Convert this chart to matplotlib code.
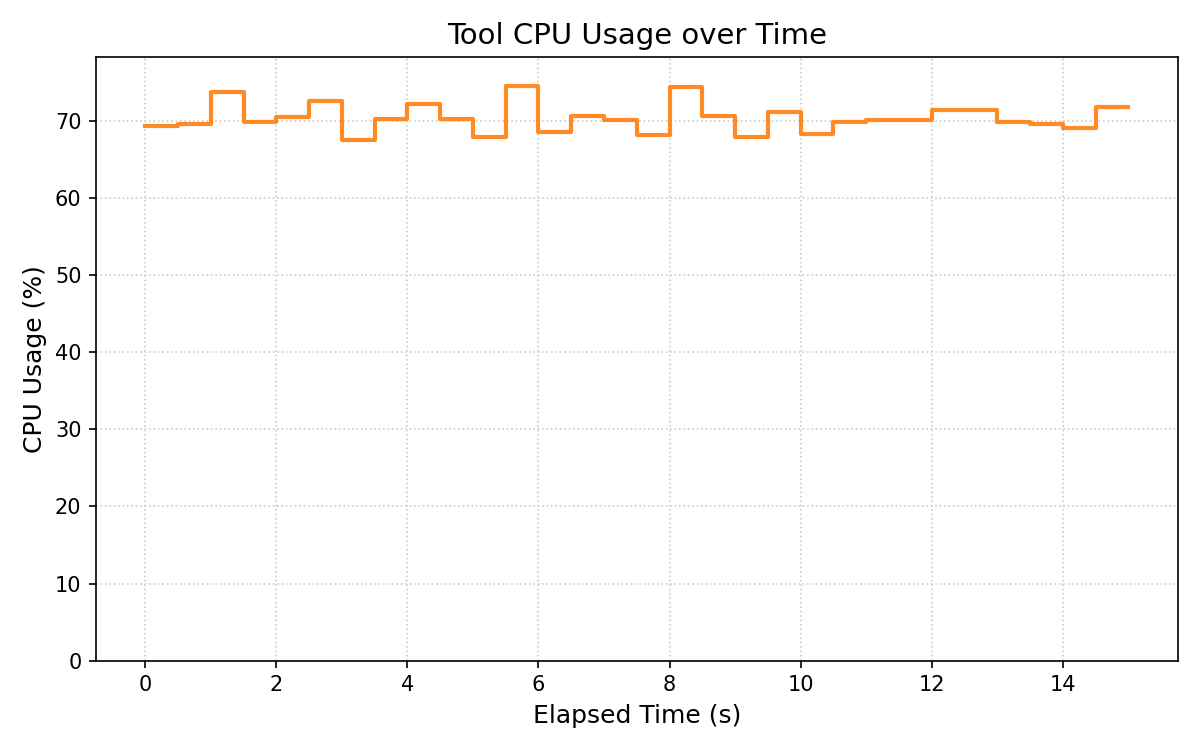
import matplotlib
matplotlib.use("Agg")
import matplotlib.pyplot as plt
import numpy as np

elapsed_time = [0.0, 0.5, 1.0, 1.5, 2.0, 2.5, 3.0, 3.5, 4.0, 4.5, 5.0, 5.5, 6.0, 6.5, 7.0, 7.5,
                8.0, 8.5, 9.0, 9.5, 10.0, 10.5, 11.0, 11.5, 12.0, 12.5, 13.0, 13.5, 14.0, 14.5, 15.0]
cpu_usage = [69.35, 69.65, 73.75, 69.9, 70.5, 72.6, 67.6, 70.25, 72.25, 70.25, 67.9, 74.6, 68.55, 70.65,
             70.15, 68.2, 74.5, 70.7, 67.9, 71.2, 68.3, 69.85, 70.1, 70.1, 71.45, 71.45, 69.85, 69.6,
             69.1, 71.85, 71.85]

fig, ax = plt.subplots(figsize=(8, 5), dpi=150)
ax.step(elapsed_time, cpu_usage, where='post', color='#ff7f0e', linewidth=2, alpha=0.9)
ax.set_ylim(0, max(cpu_usage) * 1.05)
ax.set_title("Tool CPU Usage over Time", fontsize=14)
ax.set_xlabel("Elapsed Time (s)", fontsize=12)
ax.set_ylabel("CPU Usage (%)", fontsize=12)
ax.grid(True, linestyle=':', color='#cccccc', linewidth=0.8)
fig.tight_layout()
fig.savefig("out.png", dpi=150)
